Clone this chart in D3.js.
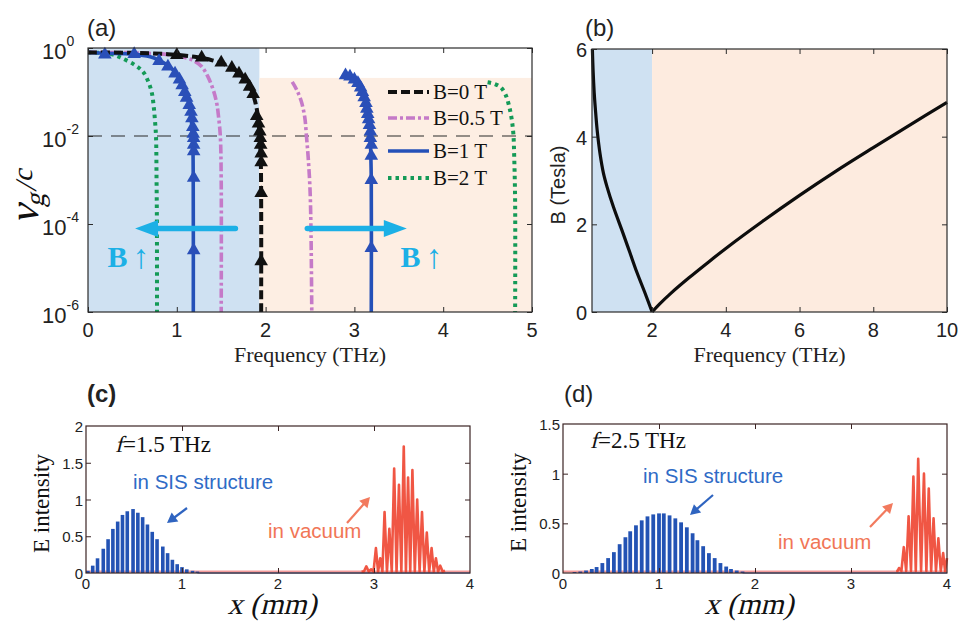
<!DOCTYPE html>
<html>
<head>
<meta charset="utf-8">
<script src="https://cdn.jsdelivr.net/npm/d3@7"></script>
<style>
  body { margin: 0; background: #fff; }
  svg { display: block; }
</style>
</head>
<body>
<svg id="fig" width="960" height="627"></svg>
<script>
// ---------- (a) group velocity vg/c vs frequency: [f (THz), log10(vg/c)] ----------
const b0Line = [[0,-0.1],[0.5,-0.11],[0.9,-0.14],[1.2,-0.2],[1.4,-0.28],[1.55,-0.38],[1.68,-0.53],[1.77,-0.72],[1.84,-0.95],[1.88,-1.2],[1.91,-1.5],[1.93,-1.9],[1.945,-2.5],[1.95,-3.5],[1.95,-6]];
const b0Marks = [[1.0,-0.16],[1.28,-0.22],[1.5,-0.33],[1.62,-0.45],[1.7,-0.58],[1.77,-0.72],[1.82,-0.88],[1.86,-1.05],[1.9,-1.55],[1.92,-1.72],[1.935,-1.9],[1.94,-2.05],[1.945,-2.2],[1.95,-2.4],[1.95,-2.6],[1.95,-3.3],[1.95,-4.85]];
const b05Low = [[0,-0.1],[0.5,-0.11],[0.9,-0.15],[1.1,-0.22],[1.2,-0.3],[1.28,-0.42],[1.35,-0.65],[1.41,-0.95],[1.45,-1.26],[1.47,-1.56],[1.49,-2.0],[1.5,-3],[1.5,-6]];
const b05High = [[2.3,-0.77],[2.35,-0.95],[2.4,-1.2],[2.44,-1.56],[2.46,-2.0],[2.48,-2.5],[2.5,-3.2],[2.51,-4],[2.52,-6]];
const b1Low = [[0,-0.1],[0.2,-0.12],[0.5,-0.14],[0.7,-0.2],[0.79,-0.27],[0.94,-0.46],[1.04,-0.73],[1.11,-1.07],[1.15,-1.41],[1.17,-1.79],[1.18,-2.1],[1.185,-3],[1.186,-6]];
const b1LowMarks = [[0.19,-0.15],[0.52,-0.14],[0.8,-0.3],[0.9,-0.42],[0.98,-0.58],[1.03,-0.72],[1.06,-0.85],[1.09,-1.0],[1.11,-1.13],[1.14,-1.3],[1.16,-1.45],[1.17,-1.6],[1.18,-1.8],[1.185,-1.95],[1.19,-2.05],[1.19,-2.2],[1.19,-2.35],[1.19,-2.95],[1.19,-4.6]];
const b1High = [[2.88,-0.66],[2.98,-0.72],[3.05,-0.85],[3.1,-1.05],[3.14,-1.35],[3.17,-1.7],[3.18,-2.1],[3.19,-3],[3.19,-6]];
const b1HighMarks = [[2.9,-0.62],[2.95,-0.65],[3.0,-0.72],[3.04,-0.8],[3.07,-0.9],[3.09,-1.0],[3.11,-1.12],[3.13,-1.25],[3.14,-1.38],[3.15,-1.5],[3.16,-1.62],[3.17,-1.75],[3.18,-1.9],[3.18,-2.05],[3.19,-2.2],[3.19,-2.45],[3.19,-3.0],[3.19,-4.55]];
const b2Low = [[0,-0.1],[0.2,-0.12],[0.3,-0.16],[0.38,-0.23],[0.53,-0.39],[0.62,-0.54],[0.68,-0.77],[0.72,-1.03],[0.74,-1.33],[0.755,-1.67],[0.766,-2.02],[0.772,-3],[0.776,-4],[0.777,-6]];
const b2High = [[4.5,-0.78],[4.58,-0.82],[4.65,-0.9],[4.7,-1.05],[4.74,-1.3],[4.77,-1.6],[4.79,-1.95],[4.8,-2.5],[4.81,-3.5],[4.81,-6]];
const aXTicks = [0, 1, 2, 3, 4, 5];
const aYExp = [0, -2, -4, -6];
const legendLabels = ["B=0 T", "B=0.5 T", "B=1 T", "B=2 T"];
const aCutoff = 1.93;          // edge between the two shaded bands (THz)
const aPeachTop = -0.68;       // top of the upper band, log10(vg/c)
const aRefLevel = -2;          // dashed reference level
const bArrows = [[1.66, 0.53], [2.47, 3.59]];  // horizontal "B increasing" arrows, f from -> to
const bArrowLevel = -4.1;

// ---------- (b) magnetic field vs frequency ----------
const bfLeft = [[0.38,6],[0.40,5.5],[0.43,5.0],[0.46,4.65],[0.51,4.15],[0.59,3.6],[0.68,3.17],[0.78,2.85],[0.95,2.4],[1.21,1.8],[1.4,1.35],[1.59,0.9],[1.8,0.45],[2,0]];
const bfRight = [[2,0],[2.2,0.18],[2.5,0.42],[3,0.78],[3.5,1.12],[4,1.45],[5,2.07],[6,2.66],[7,3.22],[8,3.75],[9,4.27],[10,4.78]];
const bXTicks = [2, 4, 6, 8, 10];
const bYTicks = [0, 2, 4, 6];

// ---------- (c) f = 1.5 THz pulse ----------
const cSisX = [0.02,0.07,0.12,0.18,0.23,0.28,0.33,0.38,0.43,0.49,0.54,0.59,0.64,0.69,0.74,0.80,0.85,0.90,0.95,1.00,1.05,1.11,1.16];
const cSisH = [0.03,0.1,0.2,0.33,0.46,0.6,0.7,0.79,0.84,0.87,0.82,0.76,0.66,0.56,0.46,0.36,0.27,0.18,0.12,0.08,0.05,0.03,0.02];
const cVacX = [2.87,2.92,2.97,3.02,3.065,3.11,3.16,3.21,3.26,3.31,3.355,3.40,3.45,3.50,3.55,3.60,3.645,3.69,3.74];
const cVacH = [0.02,0.09,0.05,0.34,0.2,0.83,0.6,1.42,1.2,1.72,1.3,1.40,1.0,0.83,0.55,0.34,0.2,0.1,0.03];
const cXTicks = [0, 1, 2, 3, 4];
const cYTicks = [0, 0.5, 1, 1.5, 2];

// ---------- (d) f = 2.5 THz pulse ----------
const dSisX = [0.12,0.18,0.24,0.30,0.35,0.41,0.47,0.53,0.59,0.65,0.70,0.76,0.82,0.88,0.94,1.00,1.05,1.11,1.17,1.23,1.29,1.35,1.40,1.46,1.52,1.58,1.64,1.70,1.75,1.81,1.87];
const dSisH = [0.01,0.015,0.025,0.04,0.06,0.1,0.15,0.21,0.29,0.36,0.42,0.48,0.53,0.57,0.59,0.60,0.6,0.58,0.55,0.51,0.46,0.4,0.33,0.27,0.2,0.15,0.1,0.065,0.04,0.025,0.015];
const dVacX = [3.47,3.50,3.55,3.60,3.65,3.70,3.76,3.81,3.86,3.91,3.96,4.0];
const dVacH = [0.02,0.05,0.26,0.57,0.97,1.15,1.0,0.85,0.55,0.35,0.2,0.15];
const dXTicks = [0, 1, 2, 3, 4];
const dYTicks = [0, 0.5, 1, 1.5];

// ---------- drawing ----------
const svg = d3.select("#fig");
const SANS = "'Liberation Sans', Arial, sans-serif";
const SERIF = "'Liberation Serif', 'Times New Roman', serif";
const FRAME = "#2b2b2b";
const BLUE_BAND = "#cfe1f2", PEACH_BAND = "#fdeee3";

// serif text slanted by a skew so the italic look does not depend on an italic face
function slanted(g, x, y, str, size, anchor, rot) {
  const t = g.append("text")
    .attr("transform", `translate(${x},${y})${rot ? ` rotate(${rot})` : ""} skewX(-14)`)
    .attr("font-family", SERIF).attr("font-size", size).attr("fill", "#111")
    .attr("text-anchor", anchor || "start");
  if (str) t.text(str);
  return t;
}

// inward ticks on all four sides plus a closed frame
function boxAxes(g, x, y, xt, yt, color) {
  const [x0, x1] = x.range();
  const [y0, y1] = y.range();   // y0 = bottom
  const strip = s => s.call(a => a.select(".domain").remove())
                      .call(a => a.selectAll("line").attr("stroke", color).attr("stroke-width", 1));
  g.append("g").attr("transform", `translate(0,${y0})`).call(d3.axisBottom(x).tickValues(xt).tickSize(-5).tickFormat("")).call(strip);
  g.append("g").attr("transform", `translate(0,${y1})`).call(d3.axisTop(x).tickValues(xt).tickSize(-5).tickFormat("")).call(strip);
  g.append("g").attr("transform", `translate(${x0},0)`).call(d3.axisLeft(y).tickValues(yt).tickSize(-5).tickFormat("")).call(strip);
  g.append("g").attr("transform", `translate(${x1},0)`).call(d3.axisRight(y).tickValues(yt).tickSize(-5).tickFormat("")).call(strip);
  g.append("rect").attr("x", x0).attr("y", y1).attr("width", x1 - x0).attr("height", y0 - y1)
    .attr("fill", "none").attr("stroke", color).attr("stroke-width", 1.2);
}

// ===== panel (a) =====
{
  const x = d3.scaleLinear().domain([0, 5]).range([88, 532]);
  const y = d3.scaleLinear().domain([-6, 0]).range([312, 48]);   // log10(vg/c)
  const g = svg.append("g");

  g.append("rect").attr("x", x(0)).attr("y", y(0)).attr("width", x(aCutoff) - x(0)).attr("height", y(-6) - y(0)).attr("fill", BLUE_BAND);
  g.append("rect").attr("x", x(aCutoff)).attr("y", y(aPeachTop)).attr("width", x(5) - x(aCutoff)).attr("height", y(-6) - y(aPeachTop)).attr("fill", PEACH_BAND);

  g.append("line").attr("x1", x(0)).attr("x2", x(5)).attr("y1", y(aRefLevel)).attr("y2", y(aRefLevel))
    .attr("stroke", "#2a2a2a").attr("stroke-width", 1.2).attr("stroke-dasharray", "14,9");

  const line = d3.line().x(d => x(d[0])).y(d => y(d[1])).curve(d3.curveCatmullRom.alpha(0.5));
  const styles = {
    b0:  { stroke: "#111111", width: 4,   dash: "9,4" },
    b05: { stroke: "#c57ac8", width: 3.6, dash: "9,3,3,3" },
    b1:  { stroke: "#2450b8", width: 3.6, dash: null },
    b2:  { stroke: "#149a57", width: 4,   dash: "3.5,4" }
  };
  const drawCurve = (data, s) => g.append("path").datum(data).attr("d", line).attr("fill", "none")
    .attr("stroke", s.stroke).attr("stroke-width", s.width).attr("stroke-dasharray", s.dash);

  drawCurve(b2Low, styles.b2);
  drawCurve(b2High, styles.b2);
  drawCurve(b05Low, styles.b05);
  drawCurve(b05High, styles.b05);
  drawCurve(b1Low, styles.b1);
  drawCurve(b1High, styles.b1);
  drawCurve(b0Line, styles.b0);

  const tri = d3.symbol().type(d3.symbolTriangle).size(80);
  const marks = (data, color) => g.append("g").selectAll("path").data(data).join("path")
    .attr("d", tri).attr("transform", d => `translate(${x(d[0])},${y(d[1])})`).attr("fill", color);
  marks(b0Marks, "#111111");
  marks(b1LowMarks, "#2a4fb8");
  marks(b1HighMarks, "#2a4fb8");

  // arrows showing the shift with increasing B
  const CYAN = "#1cb0e6";
  bArrows.forEach(([f0, f1]) => {
    const dir = Math.sign(f1 - f0);
    const xe = x(f1), ys = y(bArrowLevel);
    g.append("line").attr("x1", x(f0)).attr("x2", xe - dir * 18).attr("y1", ys).attr("y2", ys)
      .attr("stroke", CYAN).attr("stroke-width", 5.5).attr("stroke-linecap", "round");
    g.append("path").attr("d", `M${xe},${ys} L${xe - dir * 23},${ys - 8.5} L${xe - dir * 23},${ys + 8.5} Z`).attr("fill", CYAN);
  });
  const bLabel = (fx) => {
    const t = g.append("text").attr("x", x(fx)).attr("y", y(-4.98)).attr("fill", CYAN).attr("font-family", SERIF);
    t.append("tspan").attr("font-weight", "bold").attr("font-size", 30).text("B");
    t.append("tspan").attr("font-size", 34).attr("dx", 5).attr("dy", 1).text("↑");
  };
  bLabel(0.22);
  bLabel(3.52);

  // legend
  const legendStyles = [styles.b0, styles.b05, styles.b1, styles.b2];
  const rows = [92, 118, 151, 178];
  legendLabels.forEach((lab, i) => {
    const s = legendStyles[i];
    g.append("line").attr("x1", 388).attr("x2", 429).attr("y1", rows[i]).attr("y2", rows[i])
      .attr("stroke", s.stroke).attr("stroke-width", s.width).attr("stroke-dasharray", s.dash);
    g.append("text").attr("x", 433).attr("y", rows[i] + 7).attr("font-family", SERIF).attr("font-size", 21)
      .attr("fill", "#111").text(lab);
  });

  boxAxes(g, x, y, aXTicks, aYExp, FRAME);

  g.selectAll(".xl").data(aXTicks).join("text").attr("x", d => x(d)).attr("y", 337)
    .attr("text-anchor", "middle").attr("font-family", SANS).attr("font-size", 20).attr("fill", "#222").text(d => d);
  aYExp.forEach(e => {
    const t = g.append("text").attr("x", 42).attr("y", y(e) + 11).attr("font-family", SANS).attr("fill", "#222");
    t.append("tspan").attr("font-size", 22).text("10");
    t.append("tspan").attr("font-size", 14).attr("dy", -13).text(e === 0 ? "0" : "-" + Math.abs(e));
  });
  g.append("text").attr("x", (x(0) + x(5)) / 2).attr("y", 362).attr("text-anchor", "middle")
    .attr("font-family", SERIF).attr("font-size", 22).attr("fill", "#222").text("Frequency (THz)");
  const yl = slanted(g, 38, 198, null, 40, "middle", -90);
  yl.append("tspan").attr("font-size", 42).text("ν");
  yl.append("tspan").attr("font-size", 27).attr("dy", 6).text("g");
  yl.append("tspan").attr("font-size", 30).attr("dy", -8).text("/");
  yl.append("tspan").attr("font-size", 28).attr("dy", -4).text("c");
  g.append("text").attr("x", 87).attr("y", 36).attr("font-family", SANS).attr("font-size", 24).attr("fill", "#222").text("(a)");
}

// ===== panel (b) =====
{
  const x = d3.scaleLinear().domain([0.37, 10]).range([592, 947]);
  const y = d3.scaleLinear().domain([0, 6]).range([312, 49]);
  const g = svg.append("g");
  g.append("rect").attr("x", x(0.37)).attr("y", y(6)).attr("width", x(2) - x(0.37)).attr("height", y(0) - y(6)).attr("fill", BLUE_BAND);
  g.append("rect").attr("x", x(2)).attr("y", y(6)).attr("width", x(10) - x(2)).attr("height", y(0) - y(6)).attr("fill", "#fdebdf");
  const line = d3.line().x(d => x(d[0])).y(d => y(d[1])).curve(d3.curveCatmullRom.alpha(0.5));
  [bfLeft, bfRight].forEach(d => g.append("path").datum(d).attr("d", line).attr("fill", "none")
    .attr("stroke", "#0d0d0d").attr("stroke-width", 3.2).attr("stroke-linejoin", "round"));
  boxAxes(g, x, y, bXTicks, bYTicks, FRAME);
  g.selectAll(".xl").data(bXTicks).join("text").attr("x", d => x(d)).attr("y", 337)
    .attr("text-anchor", "middle").attr("font-family", SANS).attr("font-size", 20).attr("fill", "#222").text(d => d);
  g.selectAll(".yl").data(bYTicks).join("text").attr("x", 587).attr("y", d => y(d) + 8)
    .attr("text-anchor", "end").attr("font-family", SANS).attr("font-size", 20).attr("fill", "#222").text(d => d);
  g.append("text").attr("x", (x(0.37) + x(10)) / 2).attr("y", 362).attr("text-anchor", "middle")
    .attr("font-family", SERIF).attr("font-size", 22).attr("fill", "#222").text("Frequency (THz)");
  g.append("text").attr("transform", "translate(565,185) rotate(-90)").attr("text-anchor", "middle")
    .attr("font-family", SANS).attr("font-size", 20).attr("fill", "#222").text("B (Tesla)");
  g.append("text").attr("x", 585).attr("y", 36).attr("font-family", SANS).attr("font-size", 24).attr("fill", "#222").text("(b)");
}

// ===== panels (c) and (d) =====
function pulsePanel(opt) {
  const x = d3.scaleLinear().domain([0, 4]).range(opt.xr);
  const y = d3.scaleLinear().domain([0, opt.ymax]).range(opt.yr);
  const g = svg.append("g");
  const SIS = "#2353b4", VAC = "#ee4430";

  // near-zero traces along the baseline
  g.append("line").attr("x1", x(0)).attr("x2", x(4)).attr("y1", y(0) - 1.5).attr("y2", y(0) - 1.5)
    .attr("stroke", "#f49a9a").attr("stroke-width", 2);
  g.append("line").attr("x1", x(opt.sisX[opt.sisX.length - 1])).attr("x2", x(4)).attr("y1", y(0)).attr("y2", y(0))
    .attr("stroke", "#3a6cc8").attr("stroke-width", 1.2);

  // oscillating field in the SIS structure
  g.append("g").selectAll("line").data(opt.sisX).join("line")
    .attr("x1", d => x(d)).attr("x2", d => x(d))
    .attr("y1", y(0)).attr("y2", (d, i) => y(opt.sisH[i]))
    .attr("stroke", SIS).attr("stroke-width", opt.barW);

  // oscillating field in vacuum: narrow lobes returning to the baseline
  const pts = [];
  opt.vacX.forEach((v, i) => {
    if (i > 0) pts.push([(opt.vacX[i - 1] + v) / 2, 0.02]);
    pts.push([v, opt.vacH[i]]);
  });
  g.append("path").datum(pts).attr("d", d3.line().x(d => x(d[0])).y(d => y(d[1])))
    .attr("fill", "none").attr("stroke", VAC).attr("stroke-width", 2.6).attr("stroke-linejoin", "round").attr("opacity", 0.9);

  boxAxes(g, x, y, opt.xt.slice(1, -1), opt.yt.slice(1, -1), "#3b2424");

  g.selectAll(".xl").data(opt.xt).join("text").attr("x", d => x(d)).attr("y", opt.yr[0] + 16)
    .attr("text-anchor", "middle").attr("font-family", SANS).attr("font-size", 15).attr("fill", "#222").text(d => d);
  g.selectAll(".yl").data(opt.yt).join("text").attr("x", opt.xr[0] - 3).attr("y", d => y(d) + 6)
    .attr("text-anchor", "end").attr("font-family", SANS).attr("font-size", 15).attr("fill", "#222").text(d => d);

  slanted(g, opt.fPos[0], opt.fPos[1], "f", 23);
  g.append("text").attr("x", opt.fPos[0] + 8).attr("y", opt.fPos[1]).attr("font-family", SERIF).attr("font-size", 23)
    .attr("fill", "#111").text(opt.fLabel);

  g.append("text").attr("x", opt.sisPos[0]).attr("y", opt.sisPos[1]).attr("font-family", SANS).attr("font-size", 20.5)
    .attr("fill", "#2f6bc6").text("in SIS structure");
  g.append("text").attr("x", opt.vacPos[0]).attr("y", opt.vacPos[1]).attr("font-family", SANS).attr("font-size", 20.5)
    .attr("fill", "#f17656").text("in vacuum");

  const arrow = (a, color) => {
    const [x1, y1, x2, y2] = a;
    const ang = Math.atan2(y2 - y1, x2 - x1);
    g.append("line").attr("x1", x1).attr("y1", y1).attr("x2", x2 - 5 * Math.cos(ang)).attr("y2", y2 - 5 * Math.sin(ang))
      .attr("stroke", color).attr("stroke-width", 2.2);
    const L = 10, W = 5.5;
    const bx = x2 - L * Math.cos(ang), by = y2 - L * Math.sin(ang);
    g.append("path").attr("d", `M${x2},${y2} L${bx - W * Math.sin(ang)},${by + W * Math.cos(ang)} L${bx + W * Math.sin(ang)},${by - W * Math.cos(ang)} Z`).attr("fill", color);
  };
  arrow(opt.sisArrow, "#2f64c0");
  arrow(opt.vacArrow, "#f27a5e");

  g.append("text").attr("transform", `translate(${opt.xr[0] - 37},${(opt.yr[0] + opt.yr[1]) / 2 + 4}) rotate(-90)`)
    .attr("text-anchor", "middle").attr("font-family", SERIF).attr("font-size", 23).attr("fill", "#111").text("E intensity");
  slanted(g, (opt.xr[0] + opt.xr[1]) / 2 - 6, 614, "x (mm)", 30, "middle");
  g.append("text").attr("x", opt.xr[0] + 1).attr("y", 402).attr("font-family", SANS).attr("font-size", 24)
    .attr("font-weight", opt.tagBold ? "bold" : "normal").attr("fill", "#222").text(opt.tag);
}

pulsePanel({
  xr: [86, 470], yr: [573, 426], ymax: 2, xt: cXTicks, yt: cYTicks,
  sisX: cSisX, sisH: cSisH, vacX: cVacX, vacH: cVacH, barW: 3.6,
  fPos: [115, 452], fLabel: "=1.5 THz", sisPos: [133, 489], vacPos: [268, 538],
  sisArrow: [187, 508, 167, 523], vacArrow: [347, 523, 370, 497], tag: "(c)", tagBold: true
});
pulsePanel({
  xr: [563, 947], yr: [573, 424], ymax: 1.5, xt: dXTicks, yt: dYTicks,
  sisX: dSisX, sisH: dSisH, vacX: dVacX, vacH: dVacH, barW: 3.8,
  fPos: [590, 448], fLabel: "=2.5 THz", sisPos: [643, 483], vacPos: [778, 549],
  sisArrow: [713, 495, 690, 515], vacArrow: [870, 527, 893, 503], tag: "(d)", tagBold: false
});
</script>
</body>
</html>
